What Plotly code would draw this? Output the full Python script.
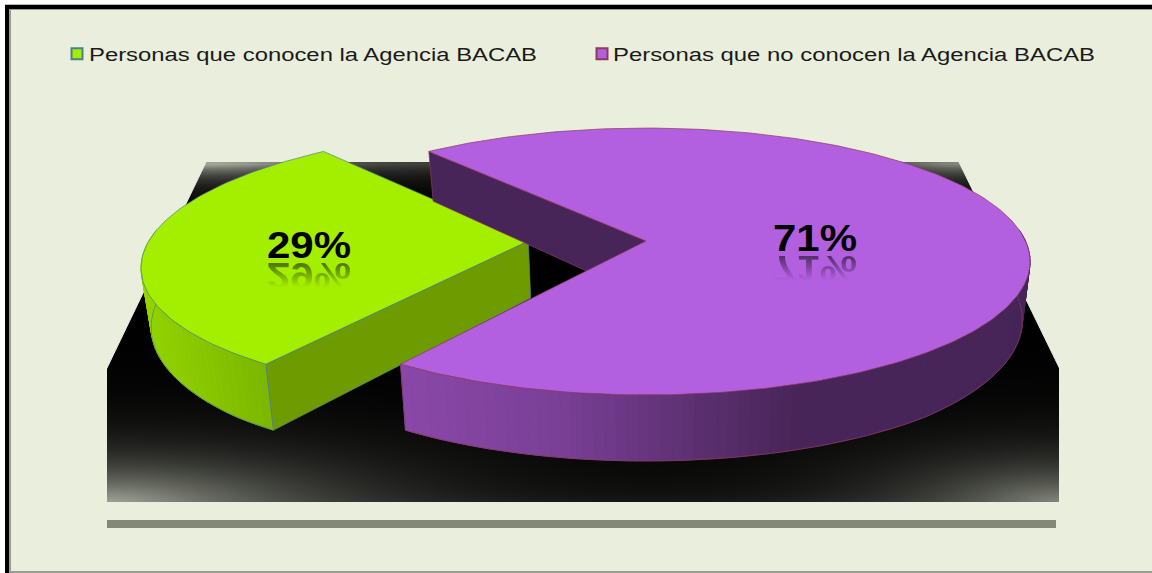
import numpy as np
import plotly.graph_objects as go

# --- data ---
categories = ["Personas que conocen la Agencia BACAB", "Personas que no conocen la Agencia BACAB"]
shares = [29.4, 70.6]
labels = ["29%", "71%"]

# --- style ---
BG = "#eaefdd"
TOP = ["#a4ee00", "#b25fe0"]
EDGE = ["#4f7f8c", "#8f3a5c"]
GREEN_SIDE = "#6e9b00"
PURPLE_BACK = "#472558"
W, H = 1152, 573

# --- projection of the pie plane on the page ---
CX, CY, RX, RY, K = 646.0, 241.0, 379.5, 130.3, 0.1536
GREEN_MID = 177.3      # direction the smaller slice points at
EXPLODE = -0.31        # how far it is pulled out along the plane


def proj(u, v, bottom=False):
    u, v = np.asarray(u, float), np.asarray(v, float)
    w = 1 - K * v
    x = CX + RX * u / w
    y = CY + RY * v / w
    if bottom:
        x = CX + (x - CX) * 0.98
        y = y + np.minimum(66, 57 / w ** 1.2)
    return x, y


def arc(t0, t1, n, du=0.0, bottom=False):
    t = np.radians(np.linspace(t0, t1, n))
    return proj(np.cos(t) + du, np.sin(t), bottom)


def hex2rgb(c):
    return np.array([int(c[i:i + 2], 16) for i in (1, 3, 5)], float)


def grad(x, xs, cs):
    rgb = [np.interp(x, xs, [hex2rgb(c)[i] for c in cs]) for i in range(3)]
    return "rgb(%d,%d,%d)" % tuple(rgb)


def poly(fig, xs, ys, fill, line=None, width=1.0):
    fig.add_trace(go.Scatter(x=list(xs), y=list(ys), mode="lines", fill="toself", fillcolor=fill,
                             line=dict(color=line or fill, width=width), hoverinfo="skip", showlegend=False))


def outline(fig, xs, ys, color, width=0.7):
    fig.add_trace(go.Scatter(x=list(xs), y=list(ys), mode="lines", line=dict(color=color, width=width),
                             hoverinfo="skip", showlegend=False))


fig = go.Figure()

# --- floor glow ---
gx = np.arange(109, 1058, 4.0)
gy = np.arange(164, 501, 4.0)
X, Y = np.meshgrid(gx, gy)
top = np.exp(-(Y - 162) / 13) * (0.3 + 0.5 * np.exp(-((X - 207) / 110) ** 2) + 0.35 * np.exp(-((X - 958) / 60) ** 2))
bl = 0.62 * np.exp(-1.5 * np.sqrt(((X - 107) / 290) ** 2 + ((Y - 501) / 58) ** 2) ** 1.2)
br = 0.5 * np.exp(-1.5 * np.sqrt(((X - 1058) / 210) ** 2 + ((Y - 501) / 60) ** 2) ** 1.2)
base = 0.05 * np.exp(-(501 - Y) / 14)
glow = np.clip(top + bl + br + base, 0, 1)
fig.add_trace(go.Heatmap(x=gx, y=gy, z=glow, zmin=0, zmax=1, zsmooth="best", showscale=False, hoverinfo="skip",
                         colorscale=[[0, "#000000"], [1, BG]]))
poly(fig, [100, 207, 100], [160, 160, 368 + 14.5], BG)
poly(fig, [1065, 958, 1065], [160, 160, 365 + 14.5], BG)

# --- slice angles come from the shares ---
sweep_g = shares[0] / sum(shares) * 360
g0, g1 = GREEN_MID - sweep_g / 2, GREEN_MID + sweep_g / 2
p0, p1 = g1, g0 + 360

# green slice
ax, ay = proj(EXPLODE, 0)
bx, by = proj(EXPLODE, 0, True)
cx, cy = arc(g0, g0, 1, EXPLODE)
dx, dy = arc(g0, g0, 1, EXPLODE, True)
poly(fig, [ax, cx[0], dx[0], bx, ax], [ay, cy[0], dy[0], by, ay], GREEN_SIDE, EDGE[0], 0.7)
ts = np.linspace(g0, 185, 40)
for a, b in zip(ts[:-1], ts[1:]):
    xt, yt = arc(a, b, 3, EXPLODE)
    xb, yb = arc(b, a, 3, EXPLODE, True)
    poly(fig, np.r_[xt, xb, xt[0]], np.r_[yt, yb, yt[0]],
         grad(float(xt.mean()), [145, 265], ["#93d400", "#7cb800"]))
xb, yb = arc(g0, 185, 60, EXPLODE, True)
outline(fig, xb, yb, EDGE[0])
xt, yt = arc(g0, g1, 80, EXPLODE)
poly(fig, np.r_[ax, xt, ax], np.r_[ay, yt, ay], TOP[0], EDGE[0], 0.7)
outline(fig, [cx[0], dx[0]], [cy[0], dy[0]], EDGE[0], 1)

# purple slice
ax, ay = proj(0, 0)
bx, by = proj(0, 0, True)
cx, cy = arc(p0, p0, 1)
dx, dy = arc(p0, p0, 1, 0, True)
poly(fig, [ax, cx[0], dx[0], bx, ax], [ay, cy[0], dy[0], by, ay], PURPLE_BACK, EDGE[1], 0.7)
ts = np.linspace(p1, 355, 90)
for a, b in zip(ts[:-1], ts[1:]):
    xt, yt = arc(a, b, 3)
    xb, yb = arc(b, a, 3, 0, True)
    poly(fig, np.r_[xt, xb, xt[0]], np.r_[yt, yb, yt[0]],
         grad(float(xt.mean()), [403, 560, 700, 800, 1030],
              ["#8a48a8", "#7a4097", "#5c3070", "#482558", "#472558"]))
xb, yb = arc(p1, 355, 100, 0, True)
outline(fig, xb, yb, EDGE[1])
ex, ey = arc(p1, p1, 1)
fx, fy = arc(p1, p1, 1, 0, True)
outline(fig, [ex[0], fx[0]], [ey[0], fy[0]], EDGE[1])
xt, yt = arc(p0, p1, 240)
poly(fig, np.r_[ax, xt, ax], np.r_[ay, yt, ay], TOP[1], EDGE[1], 0.7)

# legend entries
for name, c, e in zip(categories, TOP, EDGE):
    fig.add_trace(go.Scatter(x=[None], y=[None], mode="markers", name=name,
                             marker=dict(symbol="square", size=11, color=c, line=dict(color=e, width=2))))

fig.update_layout(
    width=W, height=H, margin=dict(l=0, r=0, t=0, b=0),
    paper_bgcolor="#ffffff", plot_bgcolor="#ffffff",
    xaxis=dict(range=[0, W], visible=False, fixedrange=True),
    yaxis=dict(range=[H, 0], visible=False, fixedrange=True),
    legend=dict(orientation="h", x=57 / W, xanchor="left", y=1 - 54 / H, yanchor="middle",
                bgcolor="rgba(0,0,0,0)", font=dict(family="Liberation Sans", size=18, color="#1a1a1a"),
                entrywidth=480, entrywidthmode="pixels", itemclick=False, itemdoubleclick=False),
    shapes=[
        dict(type="rect", layer="below", x0=9, x1=W, y0=9, y1=573, fillcolor=BG, line_width=0),
        dict(type="rect", layer="below", x0=9, x1=11, y0=9, y1=573, fillcolor="#9a9d92", line_width=0),
        dict(type="rect", layer="below", x0=9, x1=W, y0=9, y1=10, fillcolor="#9a9d92", line_width=0),
        dict(type="rect", layer="below", x0=9, x1=W, y0=571, y1=573, fillcolor="#9a9d92", line_width=0),
        dict(type="rect", layer="below", x0=5, x1=W, y0=5, y1=9, fillcolor="#000000", line_width=0),
        dict(type="rect", layer="below", x0=5, x1=9, y0=5, y1=573, fillcolor="#000000", line_width=0),
        dict(type="rect", layer="below", x0=5, x1=W, y0=4, y1=5, fillcolor="#b5b5b5", line_width=0),
        dict(type="rect", layer="above", x0=107, x1=1056, y0=520, y1=528, fillcolor="#858878", line_width=0),
    ],
    annotations=[
        dict(x=309, y=245, text=labels[0], showarrow=False, xanchor="center", yanchor="middle",
             font=dict(family="Liberation Sans", size=36, color="#000000", weight="bold")),
        dict(x=815, y=238, text=labels[1], showarrow=False, xanchor="center", yanchor="middle",
             font=dict(family="Liberation Sans", size=36, color="#000000", weight="bold")),
    ],
)

post = """
document.body.style.margin='0';
document.documentElement.style.overflow='hidden';
var gd=document.getElementById('{plot_id}');
var legendW=[448,482], legendDx=[8,9];
gd.querySelectorAll('text.legendtext').forEach(function(t,i){
  t.setAttribute('textLength',legendW[i]);t.setAttribute('lengthAdjust','spacingAndGlyphs');
  t.setAttribute('x',parseFloat(t.getAttribute('x'))-legendDx[i]);
});
var cv=document.createElement('canvas');cv.width=1152;cv.height=573;
cv.style.cssText='position:absolute;left:0;top:0;pointer-events:none;z-index:5';
document.body.appendChild(cv);
var ctx=cv.getContext('2d');
gd.querySelectorAll('text.annotation-text').forEach(function(t){
  t.setAttribute('textLength',84);t.setAttribute('lengthAdjust','spacingAndGlyphs');
  var m=t.getScreenCTM();
  var x=m.e+m.a*parseFloat(t.getAttribute('x'));
  var y=m.f+m.d*parseFloat(t.getAttribute('y'));
  ctx.save();
  ctx.font='bold 36px "Liberation Sans"';
  ctx.textAlign='center';ctx.textBaseline='alphabetic';
  var sx=84/ctx.measureText(t.textContent).width;
  ctx.translate(x,y+5);ctx.scale(sx,-1);
  var g=ctx.createLinearGradient(0,0,0,-24);
  g.addColorStop(0,'rgba(0,0,0,0.52)');g.addColorStop(1,'rgba(0,0,0,0)');
  ctx.fillStyle=g;ctx.fillText(t.textContent,0,0);
  ctx.restore();
});
"""
fig.write_html("out.html", post_script=post, config=dict(displayModeBar=False))
